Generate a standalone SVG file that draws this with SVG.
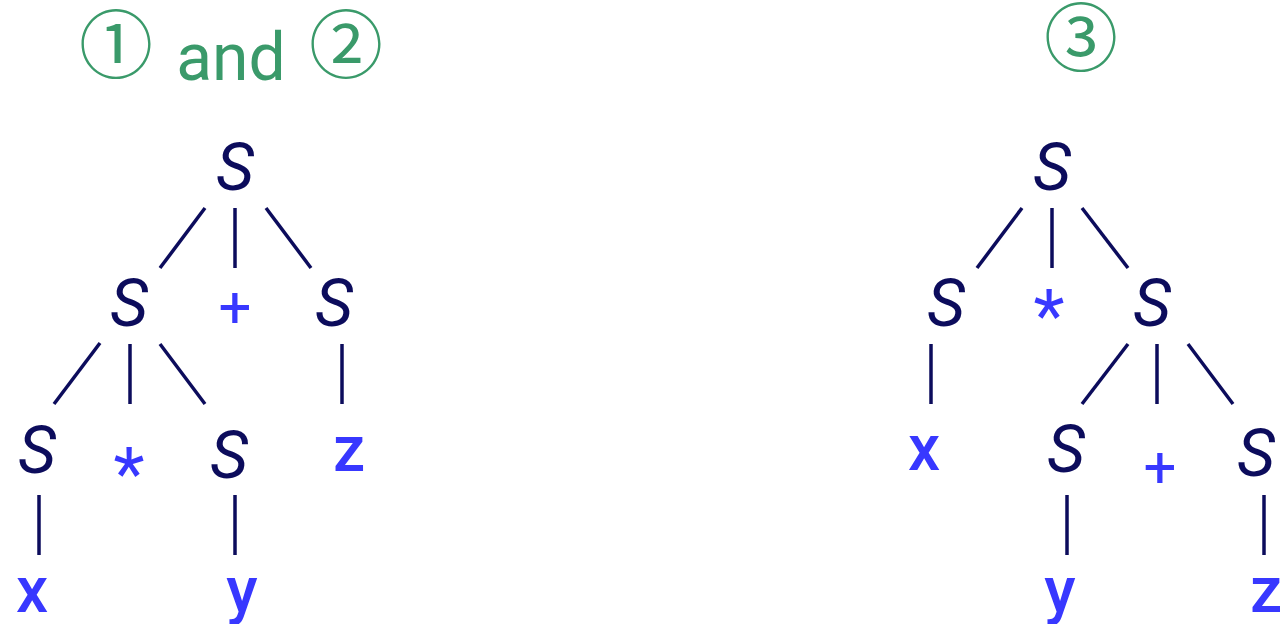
<svg xmlns="http://www.w3.org/2000/svg" width="1280" height="624" viewBox="0 0 1280 624">
<style>
.nt{font-family:Roboto,"DejaVu Sans",sans-serif;font-style:italic;font-size:66px;fill:#0c0c5c;text-anchor:middle}
.t{font-family:Roboto,"DejaVu Sans",sans-serif;font-weight:500;font-size:64px;fill:#3838ff;text-anchor:middle}
.op{font-family:Roboto,"DejaVu Sans",sans-serif;font-size:58px;fill:#3838ff;text-anchor:middle}
.ast{font-family:Roboto,"DejaVu Sans",sans-serif;font-size:72px;fill:#3838ff;text-anchor:middle}
.ttl{font-family:"Noto Sans CJK JP","DejaVu Sans",sans-serif;font-size:74px;fill:#3a9a6a;text-anchor:middle}
.and{font-family:Roboto,sans-serif;font-size:66px;fill:#3a9a6a;text-anchor:middle}
.e{stroke:#0c0c5c;stroke-width:3.5;fill:none}
</style>
<g id="titles">
<text class="ttl" x="116" y="72">①</text>
<text class="and" x="231" y="80">and</text>
<text class="ttl" x="346" y="72">②</text>
<text class="ttl" x="1081" y="65">③</text>
</g>
<g id="connectors">
<line class="e" x1="205" y1="208" x2="160" y2="268"/>
<line class="e" x1="235" y1="208" x2="235" y2="268"/>
<line class="e" x1="266" y1="208" x2="311" y2="268"/>
<line class="e" x1="100" y1="343" x2="54" y2="404"/>
<line class="e" x1="130" y1="344" x2="130" y2="404"/>
<line class="e" x1="160" y1="344" x2="205" y2="404"/>
<line class="e" x1="342" y1="344" x2="342" y2="404"/>
<line class="e" x1="39" y1="495" x2="39" y2="555"/>
<line class="e" x1="235" y1="495" x2="235" y2="555"/>
<line class="e" x1="1022" y1="208" x2="977" y2="268"/>
<line class="e" x1="1052" y1="208" x2="1052" y2="268"/>
<line class="e" x1="1082" y1="208" x2="1128" y2="268"/>
<line class="e" x1="931" y1="344" x2="931" y2="404"/>
<line class="e" x1="1128" y1="344" x2="1082" y2="404"/>
<line class="e" x1="1157" y1="344" x2="1157" y2="404"/>
<line class="e" x1="1188" y1="344" x2="1233" y2="404"/>
<line class="e" x1="1067" y1="495" x2="1067" y2="555"/>
<line class="e" x1="1264" y1="495" x2="1264" y2="555"/>
</g>
<g id="tree1-root"><text class="nt" x="235" y="190">S</text></g>
<g id="tree1-S-left"><text class="nt" x="129" y="326">S</text></g>
<g id="tree1-plus"><text class="op" x="235" y="327">+</text></g>
<g id="tree1-S-right"><text class="nt" x="334" y="326">S</text></g>
<g id="tree1-S-ll"><text class="nt" x="37" y="473">S</text></g>
<g id="tree1-star"><text class="ast" x="129" y="499">*</text></g>
<g id="tree1-S-lr"><text class="nt" x="229" y="478">S</text></g>
<g id="tree1-z"><text class="t" x="349" y="471">z</text></g>
<g id="tree1-x"><text class="t" x="32" y="612">x</text></g>
<g id="tree1-y"><text class="t" x="242" y="612">y</text></g>
<g id="tree2-root"><text class="nt" x="1052" y="190">S</text></g>
<g id="tree2-S-left"><text class="nt" x="946" y="326">S</text></g>
<g id="tree2-star"><text class="ast" x="1049" y="341">*</text></g>
<g id="tree2-S-right"><text class="nt" x="1152" y="326">S</text></g>
<g id="tree2-x"><text class="t" x="924" y="470">x</text></g>
<g id="tree2-S-rl"><text class="nt" x="1066" y="472">S</text></g>
<g id="tree2-plus"><text class="op" x="1160" y="487">+</text></g>
<g id="tree2-S-rr"><text class="nt" x="1256" y="476">S</text></g>
<g id="tree2-y"><text class="t" x="1060" y="612">y</text></g>
<g id="tree2-z"><text class="t" x="1266" y="612">z</text></g>
</svg>
